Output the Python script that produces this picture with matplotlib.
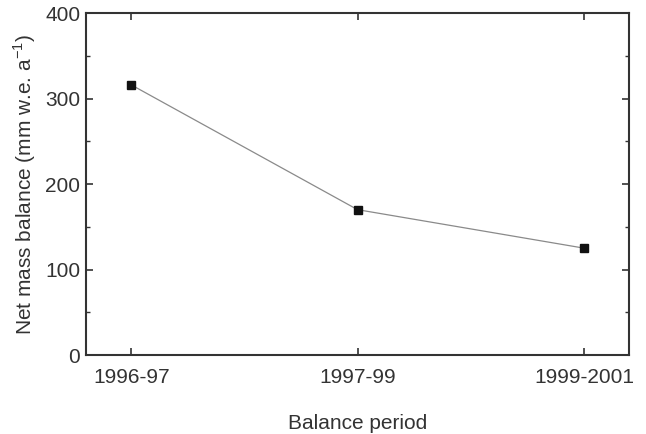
import matplotlib
matplotlib.use('Agg')
import matplotlib.pyplot as plt
from matplotlib.ticker import MultipleLocator

# Data
periods = ['1996-97', '1997-99', '1999-2001']
balance = [316, 170, 125]

plt.rcParams['font.family'] = ['Liberation Sans', 'DejaVu Sans']
plt.rcParams['mathtext.fontset'] = 'custom'
plt.rcParams['mathtext.rm'] = 'Liberation Sans'

DPI = 100
fig = plt.figure(figsize=(6.46, 4.34), dpi=DPI)
ax = fig.add_axes([0.133, 0.182, 0.841, 0.788])

xs = list(range(len(periods)))
ax.plot(xs, balance, color='#8a8a8a', linewidth=0.9, zorder=2)
ax.plot(xs, balance, linestyle='none', marker='s', markersize=6,
        color='#111111', zorder=3)

ax.set_xlim(-0.2, 2.2)
ax.set_ylim(0, 400)
ax.set_xticks(xs)
ax.set_xticklabels(periods)
ax.yaxis.set_major_locator(MultipleLocator(100))
ax.yaxis.set_minor_locator(MultipleLocator(50))

text_color = '#333333'
ax.tick_params(axis='both', which='both', direction='in', top=True, right=True,
               color='#333333', labelcolor=text_color, labelsize=15)
ax.tick_params(which='major', length=5, width=1.2)
ax.tick_params(which='minor', length=3, width=1)
ax.tick_params(axis='x', pad=9)
ax.tick_params(axis='y', pad=4)

for sp in ax.spines.values():
    sp.set_linewidth(1.5)
    sp.set_color('#333333')

ax.set_xlabel('Balance period', fontsize=15, color=text_color, labelpad=20)
ax.set_ylabel('Net mass balance (mm w.e. a$^{\\mathregular{-1}}$)', fontsize=15,
              color=text_color, labelpad=5)

fig.savefig('out.png', dpi=DPI)
